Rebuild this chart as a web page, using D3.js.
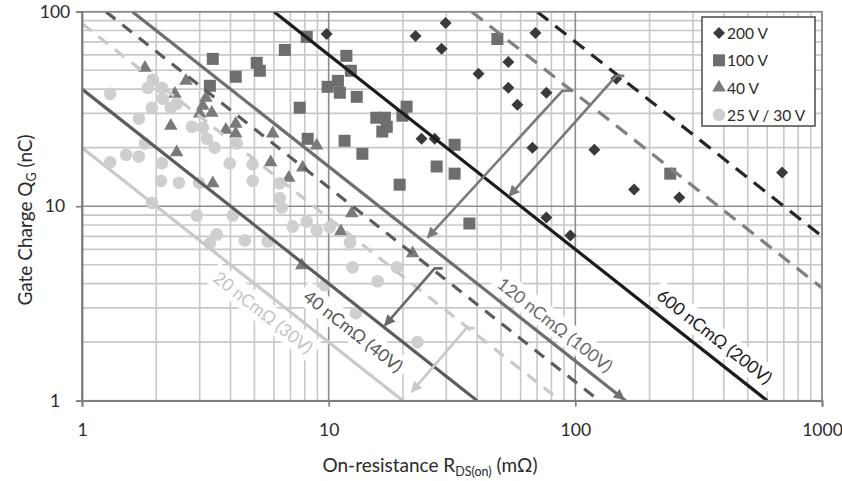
<!DOCTYPE html>
<html>
<head>
<meta charset="utf-8">
<script src="https://cdn.jsdelivr.net/npm/d3@7"></script>
<style>
  body { margin: 0; background: #fff; }
  text { font-family: Lato, "Open Sans", sans-serif; }
</style>
</head>
<body>
<div id="chart"></div>
<script>
const WIDTH = 842, HEIGHT = 481;
const margin = {top: 11.7, right: 20, bottom: 80.3, left: 82};
const plot_w = WIDTH - margin.left - margin.right;
const plot_h = HEIGHT - margin.top - margin.bottom;

// axis ticks
const xTicks = [1, 10, 100, 1000];
const yTicks = [1, 100, 10];

// data: [R_DS(on) in mOhm, Q_G in nC]
const v200 = [[9.81,76.9],[22.5,75.1],[29.8,87.5],[28.7,64.4],[40.5,47.9],[53.5,55.2],[53.5,40.6],
  [58.2,33.2],[68.9,77.8],[76.3,38.3],[23.8,22.2],[26.9,22.2],[67,20.0],[146.6,45.2],[119.4,19.5],
  [173,12.2],[264,11.1],[689,14.9],[76.3,8.75],[95.5,7.07]];
const v100 = [[3.39,57.2],[5.11,54.6],[5.26,49.7],[4.2,46.3],[3.30,41.6],[6.64,63.6],[8.15,74.2],
  [11.8,59.3],[12.3,49.7],[9.9,41.1],[10.9,44.1],[11.1,38.3],[13.0,36.5],[7.63,32.1],[15.6,28.5],
  [16.9,28.5],[17.2,25.6],[16.5,24.2],[20.7,32.5],[19.9,29.2],[8.22,22.2],[11.6,21.7],[13.7,18.6],
  [32.4,20.7],[27.4,16.0],[32.4,14.7],[19.4,12.9],[48.3,72.4],[37.2,8.15],[242.5,14.7]];
const v40 = [[1.80,51.4],[2.64,44.1],[2.38,37.8],[3.18,36.1],[3.09,32.8],[3.0,29.9],[3.36,30.2],
  [2.29,25.9],[3.83,24.7],[4.2,26.5],[4.2,23.6],[5.93,23.6],[2.42,18.9],[5.82,16.8],[3.39,13.1],
  [8.94,20.5],[7.85,15.8],[6.89,14.0],[12.4,9.18],[11.2,7.42],[21.9,5.72],[7.78,4.97]];
const v25 = [[1.30,37.8],[1.94,44.6],[1.85,40.6],[2.11,40.6],[2.13,35.7],[2.29,32.1],[2.42,33.6],
  [1.92,32.1],[1.70,28.2],[2.79,25.6],[3.09,25.3],[1.80,21.0],[3.21,22.2],[3.45,20.0],[1.51,18.4],
  [1.70,18.0],[1.30,16.8],[2.11,16.6],[3.97,16.6],[4.24,21.0],[4.92,16.4],[2.09,13.5],[2.47,13.2],
  [2.98,13.2],[4.92,13.5],[6.33,13.1],[6.33,11.0],[6.45,9.85],[1.92,10.4],[2.92,8.96],[4.09,8.96],
  [3.52,7.16],[3.30,6.44],[4.57,6.67],[5.66,6.59],[7.15,7.87],[8.15,8.35],[8.94,7.5],[10.1,7.78],
  [12.2,6.51],[12.5,4.85],[15.8,4.11],[18.9,4.85],[9.63,3.92],[12.9,2.82],[22.9,2.0]];

const seriesNames = ["200 V", "100 V", "40 V", "25 V / 30 V"];

// figure-of-merit lines, Q*R = const (nC*mOhm)
const solidFom = [20, 40, 160, 600];
const dashedFom = [87, 125, 3800, 7000];
const fomLabels = ["20 nCmΩ (30V)", "40 nCmΩ (40V)", "120 nCmΩ (100V)", "600 nCmΩ (200V)"];
const labelR = [6.0, 14.3, 75.5, 331];

// arrows [R, Q] from -> to
const arrowFrom = [[146.6,46.8],[88.6,39.2],[26.9,4.79],[36.2,2.36]];
const arrowTo = [[54,11.3],[25.2,6.9],[16.9,2.44],[21.7,1.11]];

// styles
const solidColors = ["#c9c9c9", "#5c5c5c", "#6f6f6f", "#1c1c1c"];
const dashedColors = ["#c9c9c9", "#5c5c5c", "#808080", "#262626"];
const labelColors = ["#c4c4c4", "#555", "#6a6a6a", "#1c1c1c"];
const labelOffset = [-17, -22, 16, 18];
const arrowColors = ["#7a7a7a", "#7a7a7a", "#6a6a6a", "#c9c9c9"];
const markColors = ["#3a3a3a", "#6e6e6e", "#7a7a7a", "#cfcfcf"];

let svg = d3.select("#chart")
    .append("svg")
    .attr("width", WIDTH)
    .attr("height", HEIGHT)
    .append("g")
    .attr("transform", `translate(${margin.left}, ${margin.top})`);

let x = d3.scaleLog().domain([1, 1000]).range([0, plot_w]);
let y = d3.scaleLog().domain([1, 100]).range([plot_h, 0]);

let defs = svg.append("defs");
defs.append("clipPath").attr("id", "clip")
    .append("rect").attr("width", plot_w).attr("height", plot_h);

arrowColors.concat(["#6f6f6f"]).forEach(function(c, i) {
    defs.append("marker")
        .attr("id", "arrow" + i)
        .attr("viewBox", "0 0 10 10")
        .attr("refX", 9).attr("refY", 5)
        .attr("markerWidth", 15).attr("markerHeight", 11)
        .attr("markerUnits", "userSpaceOnUse")
        .attr("orient", "auto")
        .append("path").attr("d", "M0,0 L10,5 L0,10 z").attr("fill", c);
});

// grid
let minor = x.ticks().filter(d => !xTicks.includes(d));
let minorY = y.ticks().filter(d => !yTicks.includes(d));

svg.append("g").selectAll("line").data(minor).join("line")
    .attr("x1", d => x(d)).attr("x2", d => x(d))
    .attr("y1", 0).attr("y2", plot_h)
    .attr("stroke", "#c8c8c8").attr("stroke-width", 1.6);
svg.append("g").selectAll("line").data(minorY).join("line")
    .attr("y1", d => y(d)).attr("y2", d => y(d))
    .attr("x1", 0).attr("x2", plot_w)
    .attr("stroke", "#c8c8c8").attr("stroke-width", 1.6);
svg.append("g").selectAll("line").data(xTicks).join("line")
    .attr("x1", d => x(d)).attr("x2", d => x(d))
    .attr("y1", 0).attr("y2", plot_h)
    .attr("stroke", "#8c8c8c").attr("stroke-width", 1.6);
svg.append("g").selectAll("line").data(yTicks).join("line")
    .attr("y1", d => y(d)).attr("y2", d => y(d))
    .attr("x1", 0).attr("x2", plot_w)
    .attr("stroke", "#8c8c8c").attr("stroke-width", 1.6);

// angle of a Q*R = const line in pixels
let angle = Math.atan2(y(1) - y(10), x(10) - x(1));
let deg = angle * 180 / Math.PI;

// white boxes + labels
let labelG = svg.append("g");
let labelBoxes = labelG.append("g");
let labelTexts = [];
fomLabels.forEach(function(t, i) {
    let r = labelR[i];
    let px = x(r) + labelOffset[i] * Math.sin(angle);
    let py = y(solidFom[i] / r) - labelOffset[i] * Math.cos(angle);
    labelTexts.push({t: t, px: px, py: py, i: i});
});

// markers
let symSize = [72, 144, 80, 125];
let symType = [d3.symbolSquare, d3.symbolSquare, d3.symbolTriangle, d3.symbolCircle];
let allSeries = [v200, v100, v40, v25];

function drawSymbol(g, i, px, py) {
    g.append("path")
        .attr("d", d3.symbol().type(symType[i]).size(symSize[i])())
        .attr("fill", markColors[i])
        .attr("transform", `translate(${px}, ${py})` + (i == 0 ? " rotate(45)" : ""));
}

let marksG = svg.append("g");
allSeries.forEach(function(data, i) {
    let g = marksG.append("g");
    data.forEach(function(d) { drawSymbol(g, i, x(d[0]), y(d[1])); });
});

// fom lines
function fomPoints(c) {
    let r0 = Math.max(1, c / 100), r1 = Math.min(1000, c / 1);
    return [[r0, c / r0], [r1, c / r1]];
}
let line = d3.line().x(d => x(d[0])).y(d => y(d[1]));
let linesG = svg.append("g").attr("clip-path", "url(#clip)");

linesG.selectAll(".dash").data(dashedFom).join("path")
    .attr("d", d => line(fomPoints(d)))
    .attr("fill", "none")
    .attr("stroke", (d, i) => dashedColors[i])
    .attr("stroke-width", 3.2)
    .attr("stroke-dasharray", (d, i) => i < 2 ? "12,9" : "14,9");

linesG.selectAll(".solid").data(solidFom).join("path")
    .attr("d", d => line(fomPoints(d)))
    .attr("fill", "none")
    .attr("stroke", (d, i) => solidColors[i])
    .attr("stroke-width", 3.2);

// arrow at the end of the 120 line
svg.append("path")
    .attr("d", line(fomPoints(solidFom[2]).map((d, k) => k == 0 ? d : [d[0] * 0.985, d[1] / 0.985])))
    .attr("fill", "none").attr("stroke", "none")
    .attr("marker-end", "url(#arrow4)");

// arrows
arrowFrom.forEach(function(a, i) {
    let x0 = x(a[0]), y0 = y(a[1]), x1 = x(arrowTo[i][0]), y1 = y(arrowTo[i][1]);
    svg.append("path")
        .attr("d", `M${x0 + 8},${y0} L${x0},${y0} L${x1},${y1}`)
        .attr("fill", "none")
        .attr("stroke", arrowColors[i])
        .attr("stroke-width", 2.6)
        .attr("marker-end", `url(#arrow${i})`);
});

// labels on top
let lbl = labelG.raise();
labelTexts.forEach(function(d) {
    let tx = lbl.append("text")
        .attr("transform", `translate(${d.px}, ${d.py}) rotate(${deg})`)
        .attr("text-anchor", "middle")
        .attr("dominant-baseline", "central")
        .style("font-size", "17.5px")
        .attr("fill", labelColors[d.i])
        .text(d.t);
    let w = tx.node().getComputedTextLength();
    labelBoxes.append("rect")
        .attr("transform", `translate(${d.px}, ${d.py}) rotate(${deg})`)
        .attr("x", -w / 2 - 5).attr("y", -12)
        .attr("width", w + 10).attr("height", 24)
        .attr("fill", "#fff");
});
// boxes must sit below lines and marks: move them right after the grid
svg.node().insertBefore(labelBoxes.node(), marksG.node());

// border
svg.append("rect")
    .attr("width", plot_w).attr("height", plot_h)
    .attr("fill", "none").attr("stroke", "#8c8c8c").attr("stroke-width", 1.6);

// axes
let xAxis = svg.append("g")
    .attr("transform", `translate(0, ${plot_h})`)
    .call(d3.axisBottom(x).tickValues(xTicks).tickFormat(d3.format("d")).tickSize(6).tickPadding(17));
let yAxis = svg.append("g")
    .call(d3.axisLeft(y).tickValues(yTicks).tickFormat(d3.format("d")).tickSize(6).tickPadding(8));

[xAxis, yAxis].forEach(function(a) {
    a.select(".domain").attr("stroke", "#7c7c7c").attr("stroke-width", 1.8);
    a.selectAll(".tick line").attr("stroke", "#7c7c7c").attr("stroke-width", 1.6);
    a.selectAll(".tick text").style("font-size", "17.5px").attr("fill", "#2a2a2a")
        .style("font-family", "Lato, sans-serif");
});
yAxis.selectAll(".tick text").attr("text-anchor", "middle").attr("x", -27);

// axis titles
let xTitle = svg.append("text")
    .attr("x", 348).attr("y", 472 - margin.top)
    .attr("text-anchor", "middle")
    .style("font-size", "19px").attr("fill", "#2a2a2a");
xTitle.append("tspan").text("On-resistance R");
xTitle.append("tspan").attr("dy", 4).style("font-size", "12.5px").text("DS(on)");
xTitle.append("tspan").attr("dy", -4).text(" (mΩ)");

let yTitle = svg.append("text")
    .attr("transform", `translate(${32 - margin.left}, ${220 - margin.top}) rotate(-90)`)
    .attr("text-anchor", "middle")
    .style("font-size", "19px").attr("fill", "#2a2a2a");
yTitle.append("tspan").text("Gate Charge Q");
yTitle.append("tspan").attr("dy", 4).style("font-size", "12.5px").text("G");
yTitle.append("tspan").attr("dy", -4).text(" (nC)");

// legend
let legend = svg.append("g").attr("transform", `translate(${702 - margin.left}, ${17 - margin.top})`);
legend.append("rect")
    .attr("width", 113).attr("height", 109)
    .attr("fill", "#fff").attr("stroke", "#4a4a4a").attr("stroke-width", 1.5);
seriesNames.forEach(function(n, i) {
    let ly = 16 + i * 27.3;
    drawSymbol(legend, i, 17, ly);
    legend.append("text")
        .attr("x", 25).attr("y", ly)
        .attr("dominant-baseline", "central")
        .style("font-size", "15.5px").attr("fill", "#2a2a2a")
        .text(n);
});
</script>
</body>
</html>
